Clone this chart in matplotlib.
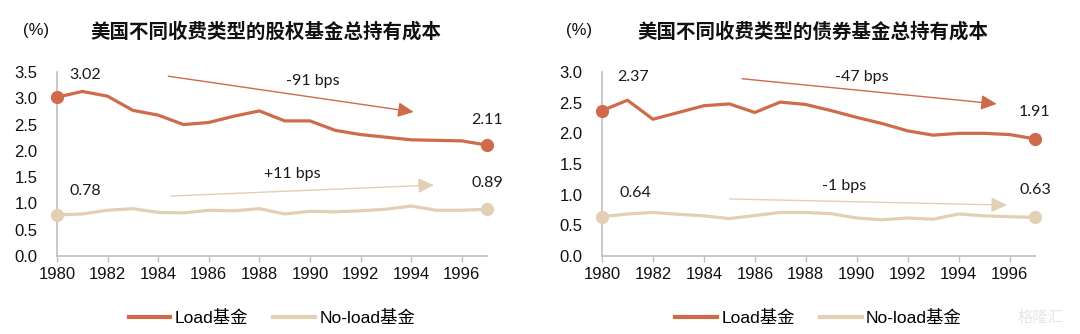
import matplotlib
matplotlib.use("Agg")
import matplotlib.pyplot as plt
from matplotlib.lines import Line2D

years = list(range(1980, 1998))

equity_load = [3.02, 3.13, 3.04, 2.77, 2.68, 2.50, 2.54, 2.66, 2.76, 2.57, 2.57,
               2.39, 2.31, 2.26, 2.21, 2.20, 2.19, 2.11]
equity_noload = [0.78, 0.80, 0.87, 0.90, 0.83, 0.82, 0.87, 0.86, 0.90, 0.80, 0.85,
                 0.84, 0.86, 0.89, 0.95, 0.87, 0.87, 0.89]
bond_load = [2.37, 2.54, 2.23, 2.34, 2.45, 2.48, 2.34, 2.51, 2.47, 2.37, 2.26,
             2.16, 2.04, 1.97, 2.00, 2.00, 1.98, 1.91]
bond_noload = [0.64, 0.685, 0.71, 0.68, 0.655, 0.61, 0.66, 0.71, 0.71, 0.69, 0.62,
               0.59, 0.62, 0.60, 0.685, 0.655, 0.64, 0.63]

titles = ["美国不同收费类型的股权基金总持有成本", "美国不同收费类型的债券基金总持有成本"]
series_names = ["Load基金", "No-load基金"]
change_labels = [["-91 bps", "+11 bps"], ["-47 bps", "-1 bps"]]
y_max = [3.5, 3.0]
x_ticks = list(range(1980, 1997, 2))

# annotation placement (data coordinates)
arrows = [
    [((1984.4, 3.42), (1994.1, 2.74)), ((1984.5, 1.14), (1994.9, 1.35))],
    [((1985.5, 2.89), (1995.5, 2.48)), ((1985.0, 0.93), (1995.9, 0.83))],
]
change_pos = [[(1990.1, 3.32), (1989.3, 1.56)], [(1990.2, 2.92), (1989.5, 1.14)]]
start_lbl_pos = [[(1981.1, 3.45), (1981.1, 1.24)], [(1981.2, 2.92), (1981.3, 1.02)]]
end_lbl_pos = [[(1997, 2.58), (1997, 1.38)], [(1997, 2.34), (1997, 1.07)]]

LOAD_C = "#CF6A4B"
NOLOAD_C = "#E3CFB3"
GRAY = "#BFBFBF"
NUMF = ["Liberation Sans", "DejaVu Sans"]
LBLF = ["Lato", "DejaVu Sans"]
CJKF = ["Liberation Sans", "Noto Sans CJK SC"]

fig = plt.figure(figsize=(10.8, 3.34), dpi=100)
positions = [(57 / 1080, 78 / 334, 430 / 1080, 184 / 334),
             (602 / 1080, 78 / 334, 433 / 1080, 184 / 334)]
data = [(equity_load, equity_noload), (bond_load, bond_noload)]
title_x = [266, 813]
pct_x = [36, 579]

for i in range(2):
    ax = fig.add_axes(positions[i])
    load, noload = data[i]
    colors = [LOAD_C, NOLOAD_C]
    for j, vals in enumerate([load, noload]):
        ax.plot(years, vals, color=colors[j], lw=2.3, solid_joinstyle="round",
                clip_on=False, zorder=3)
        ax.plot([years[0], years[-1]], [vals[0], vals[-1]], "o", color=colors[j],
                ms=8.5, clip_on=False, zorder=4)
        (x0, y0), (x1, y1) = arrows[i][j]
        ax.annotate("", xy=(x1, y1), xytext=(x0, y0),
                    arrowprops=dict(arrowstyle="-|>,head_length=0.95,head_width=0.45",
                                    mutation_scale=10, lw=1.0, color=colors[j],
                                    shrinkA=0, shrinkB=0))
        cx, cy = change_pos[i][j]
        ax.text(cx, cy, change_labels[i][j], ha="center", va="center",
                fontsize=11.5, family=LBLF, color="#1a1a1a")
        sx, sy = start_lbl_pos[i][j]
        ax.text(sx, sy, f"{vals[0]:.2f}", ha="center", va="center",
                fontsize=11.5, family=LBLF, color="#1a1a1a")
        ex, ey = end_lbl_pos[i][j]
        ax.text(ex, ey, f"{vals[-1]:.2f}", ha="center", va="center",
                fontsize=11.5, family=LBLF, color="#1a1a1a")

    ax.set_xlim(1980, 1997)
    ax.set_ylim(0, y_max[i])
    ax.set_xticks(x_ticks)
    ax.set_xticklabels([str(t) for t in x_ticks], family=NUMF, fontsize=12)
    yt = [k * 0.5 for k in range(int(y_max[i] / 0.5) + 1)]
    ax.set_yticks(yt)
    ax.set_yticklabels([f"{v:.1f}" for v in yt], family=NUMF, fontsize=12)
    for s in ["top", "right"]:
        ax.spines[s].set_visible(False)
    for s in ["left", "bottom"]:
        ax.spines[s].set_color(GRAY)
        ax.spines[s].set_linewidth(1.2)
    ax.tick_params(axis="x", direction="out", length=4, width=1, color=GRAY, pad=4,
                   labelcolor="#111111")
    ax.tick_params(axis="y", length=0, pad=14, labelcolor="#111111")

    fig.text(title_x[i] / 1080, 1 - 32 / 334, titles[i], ha="center", va="center",
             fontsize=14, fontweight="bold", family=["Noto Sans CJK SC"], color="#111111")
    fig.text(pct_x[i] / 1080, 1 - 31 / 334, "(%)", ha="center", va="center",
             fontsize=12, family=NUMF, color="#111111")

    handles = [Line2D([], [], color=LOAD_C, lw=3), Line2D([], [], color=NOLOAD_C, lw=3)]
    leg = ax.legend(handles, series_names, loc="center", bbox_to_anchor=(0.5, -0.335),
                    ncol=2, frameon=False, handlelength=2.4, handletextpad=0.25,
                    columnspacing=1.45, prop={"family": CJKF, "size": 12.5})

fig.text(1040 / 1080, 1 - 317 / 334, "格隆汇", ha="center", va="center", fontsize=11,
         family=["Noto Sans CJK SC"], color="#E6E6E6")

fig.savefig("out.png", dpi=100)
